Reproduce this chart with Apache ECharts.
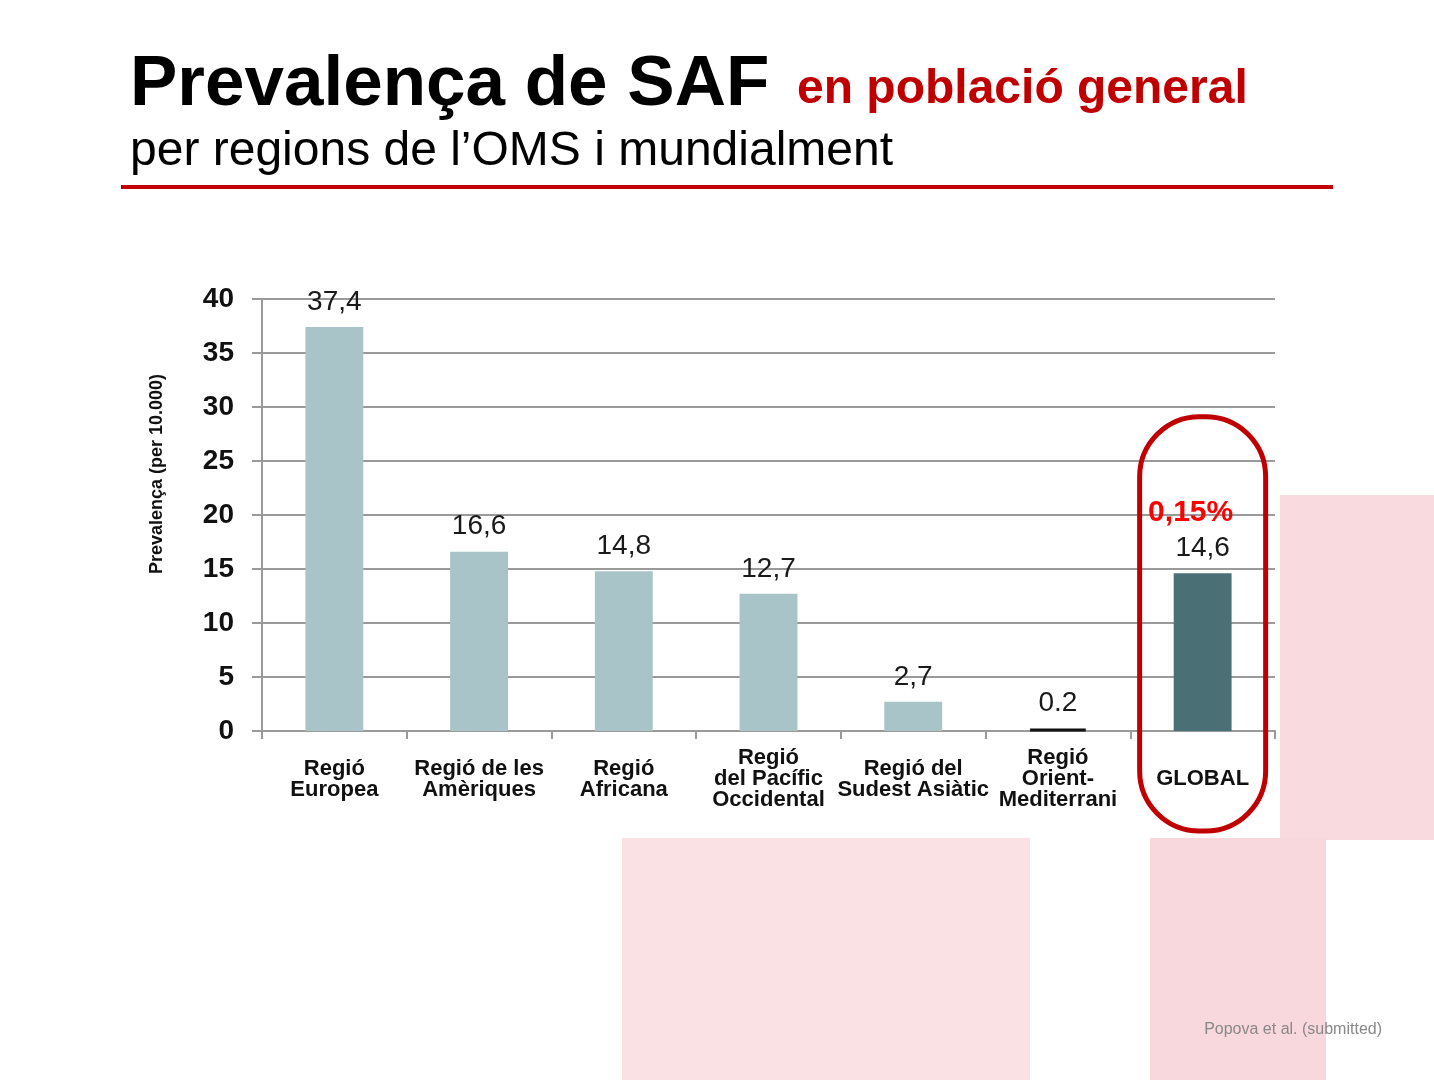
<!DOCTYPE html>
<html><head><meta charset="utf-8">
<script src="https://cdn.jsdelivr.net/npm/echarts@6/dist/echarts.min.js"></script>
<style>html,body{margin:0;padding:0;background:#fff}#c{width:1434px;height:1080px}</style>
</head><body><div id="c"></div>
<script>
const categories = ['Regió\nEuropea','Regió de les\nAmèriques','Regió\nAfricana','Regió\ndel Pacífic\nOccidental','Regió del\nSudest Asiàtic','Regió\nOrient-\nMediterrani','GLOBAL'];
const values = [37.4, 16.6, 14.8, 12.7, 2.7, 0.2, 14.6];
const valueLabels = ['37,4','16,6','14,8','12,7','2,7','0.2','14,6'];
const globalShare = '0,15%';
const yMin = 0, yMax = 40, yStep = 5;
const titleMain = 'Prevalença de SAF';
const titleRed = 'en població general';
const subtitle = 'per regions de l\u2019OMS i mundialment';
const yName = 'Prevalença (per 10.000)';
const source = 'Popova et al. (submitted)';

const FONT = "'Liberation Sans', Arial, sans-serif";
const chart = echarts.init(document.getElementById('c'), null, {renderer:'canvas'});
const lastIdx = values.length - 1;

function barStyle(i){
  if (i === lastIdx) return {color: '#4A7075'};
  if (values[i] < 0.5) return {color: '#111111', borderColor: '#111111', borderWidth: 3};
  return {color: '#A8C4C9'};
}

const option = {
  backgroundColor: '#ffffff',
  animation: false,
  grid: {left: 262, right: 159, top: 299, bottom: 349, containLabel: false},
  xAxis: {
    type: 'category',
    data: categories,
    axisLine: {show: true, lineStyle: {color: '#9a9a9a', width: 2}},
    axisTick: {show: true, length: 8, lineStyle: {color: '#9a9a9a', width: 2}},
    axisLabel: {
      interval: 0, hideOverlap: false, margin: 48, verticalAlign: 'middle',
      fontFamily: FONT, fontWeight: 'bold', fontSize: 22, lineHeight: 21, color: '#111'
    }
  },
  yAxis: {
    type: 'value', min: yMin, max: yMax, interval: yStep,
    axisLine: {show: true, lineStyle: {color: '#9a9a9a', width: 2}},
    axisTick: {show: true, length: 10, lineStyle: {color: '#9a9a9a', width: 2}},
    axisLabel: {margin: 28, fontFamily: FONT, fontWeight: 'bold', fontSize: 28, color: '#111'},
    splitLine: {show: true, lineStyle: {color: '#9a9a9a', width: 2}}
  },
  series: [{
    type: 'bar',
    barWidth: '40%',
    data: values.map((v, i) => ({value: v, itemStyle: barStyle(i)})),
    label: {
      show: true, position: 'top', distance: 11,
      fontFamily: FONT, fontSize: 28, color: '#1a1a1a',
      formatter: (p) => p.dataIndex === lastIdx
        ? '{r|' + globalShare + '}\n{v|' + valueLabels[p.dataIndex] + '}'
        : valueLabels[p.dataIndex],
      rich: {
        r: {fontFamily: FONT, fontWeight: 'bold', fontSize: 30, color: '#FF0000', lineHeight: 44, padding: [0, 24, 0, 0]},
        v: {fontFamily: FONT, fontSize: 28, color: '#1a1a1a', lineHeight: 28}
      }
    }
  }],
  graphic: [
    {type: 'rect', z: -20, silent: true, shape: {x: 1280, y: 495, width: 154, height: 345}, style: {fill: '#F9DADE'}},
    {type: 'rect', z: -20, silent: true, shape: {x: 1150, y: 838, width: 176, height: 242}, style: {fill: '#F8D8DC'}},
    {type: 'rect', z: -20, silent: true, shape: {x: 622, y: 838, width: 408, height: 242}, style: {fill: '#FAE1E4'}},
    {type: 'rect', z: -10, silent: true, shape: {x: 134, y: 258, width: 1146, height: 580}, style: {fill: '#ffffff'}},
    {type: 'text', silent: true, style: {text: titleMain, x: 130, y: 85, font: 'bold 71px ' + FONT, fill: '#000', verticalAlign: 'middle'}},
    {type: 'text', silent: true, style: {text: titleRed, x: 797, y: 90, font: 'bold 48px ' + FONT, fill: '#C00000', verticalAlign: 'middle'}},
    {type: 'text', silent: true, style: {text: subtitle, x: 130, y: 152, font: '48px ' + FONT, fill: '#000', verticalAlign: 'middle'}},
    {type: 'rect', silent: true, shape: {x: 121, y: 185, width: 1212, height: 4}, style: {fill: '#C00000'}},
    {type: 'text', silent: true, style: {text: source, x: 1382, y: 1030, font: '16px ' + FONT, fill: '#888', align: 'right', verticalAlign: 'middle'}},
    {type: 'text', silent: true, rotation: Math.PI / 2, x: 157, y: 474,
      style: {text: yName, x: 0, y: 0, font: 'bold 18px ' + FONT, fill: '#111', align: 'center', verticalAlign: 'middle'}}
  ]
};
chart.setOption(option);

// highlight ring around GLOBAL, computed from the axes
const pBase = chart.convertToPixel({gridIndex: 0}, [categories[lastIdx], 0]);
const pTop = chart.convertToPixel({gridIndex: 0}, [categories[lastIdx], 29.1]);
const ringW = 126;
chart.setOption({
  graphic: [{
    id: 'ring', type: 'rect', z: 100, silent: true,
    shape: {x: pBase[0] - ringW / 2, y: pTop[1], width: ringW, height: (pBase[1] + 100) - pTop[1], r: 60},
    style: {fill: 'none', stroke: '#C00000', lineWidth: 5}
  }]
});
</script>
</body></html>
